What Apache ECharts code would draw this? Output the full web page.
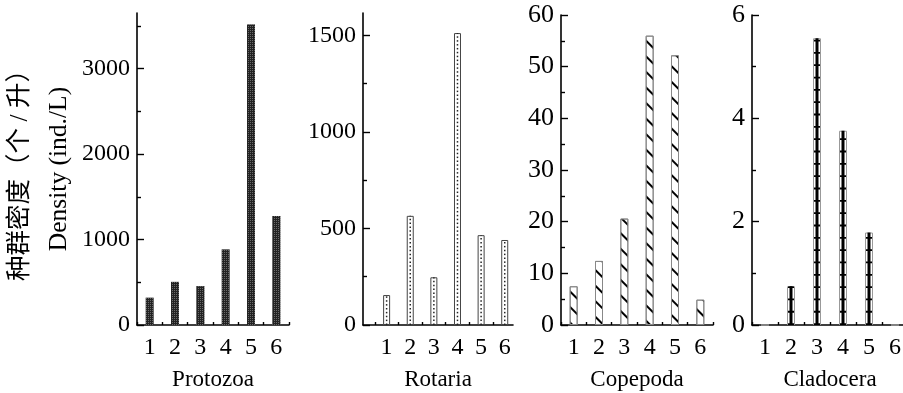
<!DOCTYPE html>
<html>
<head>
<meta charset="utf-8">
<script src="https://cdn.jsdelivr.net/npm/echarts@6/dist/echarts.min.js"></script>
<style>html,body{margin:0;padding:0;background:#fff}#c{width:903px;height:393px}</style>
</head>
<body>
<div id="c"></div>
<script>
// ---- data ----
const categories = ['1', '2', '3', '4', '5', '6'];
const panelNames = ['Protozoa', 'Rotaria', 'Copepoda', 'Cladocera'];
const protozoa = [320, 505, 455, 885, 3515, 1275];
const rotaria = [155, 565, 247, 1511, 465, 440];
const copepoda = [7.5, 12.4, 20.6, 56, 52.2, 4.9];
const cladocera = [0, 0.75, 5.55, 3.76, 1.79, 0];
const yMax = [3650, 1615, 60, 6];
const yMajorTicks = [[0, 1000, 2000, 3000], [0, 500, 1000, 1500], [0, 10, 20, 30, 40, 50, 60], [0, 2, 4, 6]];
const yMinorTicks = [[500, 1500, 2500, 3500], [250, 750, 1250], [5, 15, 25, 35, 45, 55], [1, 3, 5]];
const yTitleEn = 'Density (ind./L)';
const yTitleZh = '种群密度（个 / 升）';
const rotariaXTicks = [0.5, 1.5, 2.5, 3.5, 4.5, 5.5];

const FONT = "'Liberation Serif', 'Noto Sans CJK SC', serif";
const grids = [
  {left: 137, top: 13, width: 152, height: 312, outerBoundsMode: 'none', containLabel: false},
  {left: 363, top: 13, width: 150, height: 312, outerBoundsMode: 'none', containLabel: false},
  {left: 561, top: 15, width: 152, height: 310, outerBoundsMode: 'none', containLabel: false},
  {left: 752, top: 15, width: 156, height: 310, outerBoundsMode: 'none', containLabel: false}
];
const yLabelSize = [24, 24, 26, 26];

const lineStyle = {color: '#000', width: 1.6};
const labelStyle = {color: '#000', fontFamily: FONT, fontSize: 24};
const plain = v => String(v);

const xAxes = grids.map((g, i) => {
  const base = {
    gridIndex: i,
    position: 'bottom',
    name: panelNames[i],
    nameLocation: 'middle',
    nameGap: 43,
    nameTextStyle: {color: '#000', fontFamily: FONT, fontSize: 23},
    axisLine: {show: true, onZero: false, lineStyle: lineStyle},
    splitLine: {show: false},
    axisLabel: Object.assign({margin: 11}, labelStyle)
  };
  if (i === 1) {
    return Object.assign(base, {
      type: 'value', min: 0, max: 6.35, interval: 1,
      axisTick: {show: true, inside: true, length: 3, customValues: rotariaXTicks, lineStyle: {color: '#000', width: 1.4}},
      axisLabel: Object.assign({margin: 11, customValues: categories.map(Number), formatter: plain}, labelStyle)
    });
  }
  return Object.assign(base, {
    type: 'category', data: categories, boundaryGap: true,
    axisTick: {show: true, inside: true, length: 3, alignWithLabel: false, lineStyle: {color: '#000', width: 1.4}}
  });
});

const yAxes = [];
grids.forEach((g, i) => {
  yAxes.push({
    type: 'value', gridIndex: i, position: 'left', min: 0, max: yMax[i],
    axisLine: {show: true, lineStyle: lineStyle},
    axisTick: {show: true, inside: true, length: 7, customValues: yMajorTicks[i], lineStyle: {color: '#000', width: 1.4}},
    axisLabel: {margin: 7, customValues: yMajorTicks[i], formatter: plain, color: '#000', fontFamily: FONT, fontSize: yLabelSize[i]},
    splitLine: {show: false},
    name: i === 0 ? yTitleEn : '',
    nameLocation: 'middle', nameRotate: 90, nameGap: 65,
    nameTextStyle: {color: '#000', fontFamily: FONT, fontSize: 25.5}
  });
  yAxes.push({
    type: 'value', gridIndex: i, position: 'left', min: 0, max: yMax[i],
    axisLine: {show: false},
    axisTick: {show: true, inside: true, length: 4, customValues: yMinorTicks[i], lineStyle: {color: '#000', width: 1.4}},
    axisLabel: {show: false},
    splitLine: {show: false},
    name: i === 0 ? yTitleZh : '',
    nameLocation: 'middle', nameRotate: 90, nameGap: 104,
    nameTextStyle: {color: '#000', fontFamily: FONT, fontSize: 25.5}
  });
});

const rotariaData = categories.map((c, k) => [Number(c), rotaria[k]]);

const series = [
  {
    type: 'bar', xAxisIndex: 0, yAxisIndex: 0, data: protozoa, barWidth: 8,
    itemStyle: {color: '#222', decal: {symbol: 'rect', symbolSize: 1, dashArrayX: [1, 1], dashArrayY: [1, 1], color: '#6a6a6a'}}
  },
  {
    type: 'bar', xAxisIndex: 1, yAxisIndex: 2, data: rotariaData, barWidth: 7,
    itemStyle: {color: '#fff', borderColor: '#444', borderWidth: 1}
  },
  {
    type: 'pictorialBar', xAxisIndex: 1, yAxisIndex: 2, data: rotariaData,
    symbol: 'rect', symbolSize: [1.5, 1.5], symbolRepeat: true, symbolMargin: 1.2, symbolClip: true,
    itemStyle: {color: '#222'}, z: 3
  },
  {
    type: 'bar', xAxisIndex: 2, yAxisIndex: 4, data: copepoda, barWidth: 8,
    itemStyle: {color: '#fff', borderColor: '#888', borderWidth: 1,
      decal: {symbol: 'rect', symbolSize: 1, dashArrayX: [1, 0], dashArrayY: [1.7, 9], rotation: Math.PI / 4, color: '#000'}}
  },
  {
    type: 'bar', xAxisIndex: 3, yAxisIndex: 6, data: cladocera, barWidth: 8,
    itemStyle: {color: '#fff', borderColor: '#999', borderWidth: 1}
  },
  {
    type: 'pictorialBar', xAxisIndex: 3, yAxisIndex: 6, data: cladocera,
    symbol: 'rect', symbolSize: [3, '100%'], itemStyle: {color: '#000'}, z: 3
  },
  {
    type: 'pictorialBar', xAxisIndex: 3, yAxisIndex: 6, data: cladocera,
    symbol: 'rect', symbolSize: [6, 1.8], symbolRepeat: true, symbolMargin: 5.5, symbolClip: true,
    itemStyle: {color: '#000'}, z: 4
  }
];

const chart = echarts.init(document.getElementById('c'), null, {renderer: 'canvas'});
chart.setOption({
  animation: false,
  backgroundColor: '#fff',
  grid: grids,
  xAxis: xAxes,
  yAxis: yAxes,
  series: series
});
</script>
</body>
</html>
